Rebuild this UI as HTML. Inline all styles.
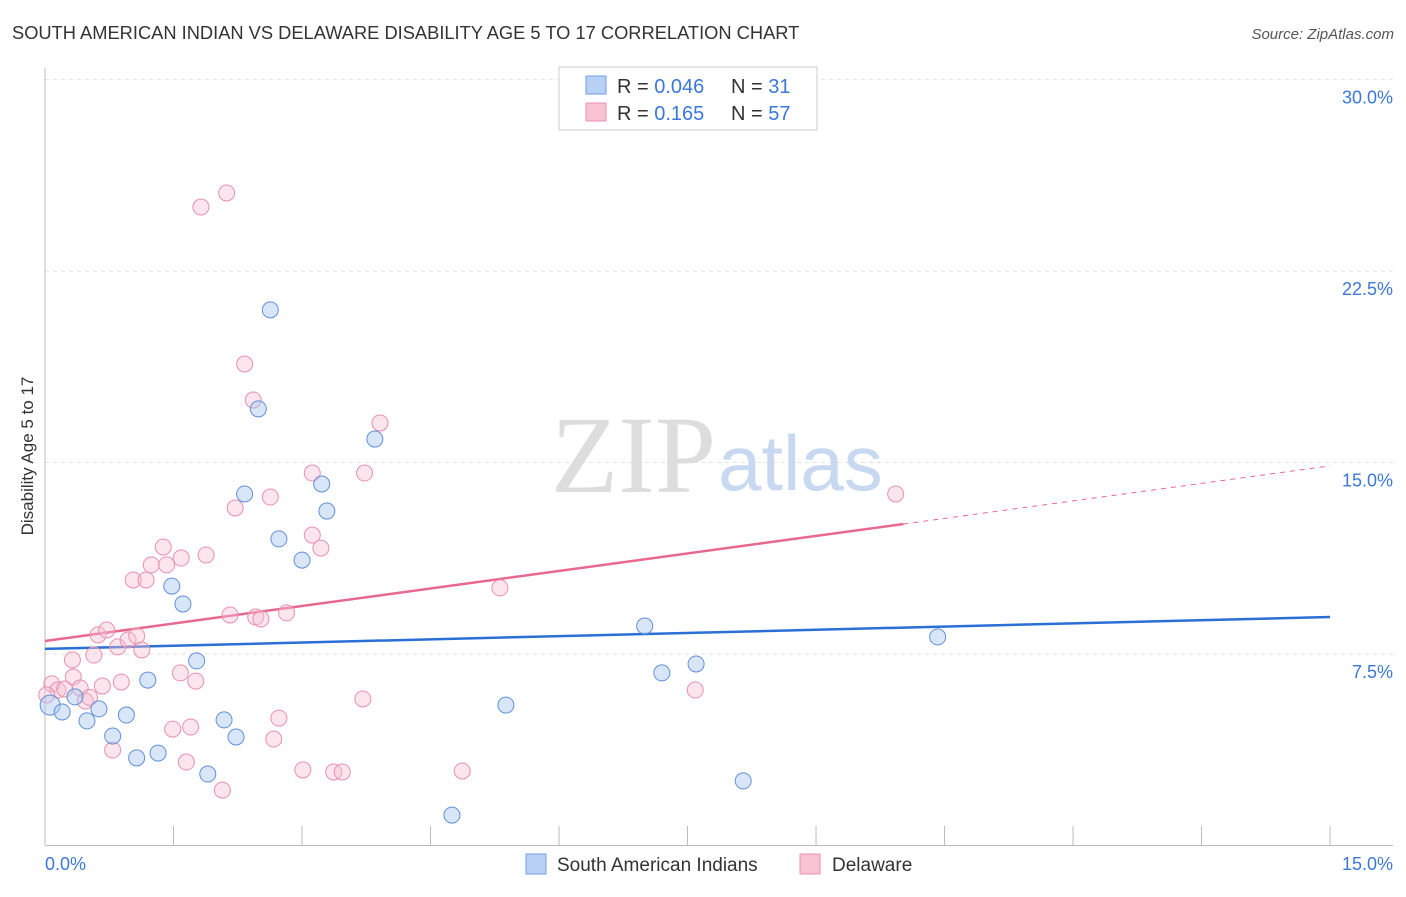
<!DOCTYPE html>
<html><head><meta charset="utf-8"><style>
body{margin:0;background:#fff;font-family:"Liberation Sans",sans-serif;}
</style></head><body>
<svg id="chart" width="1406" height="892" xmlns="http://www.w3.org/2000/svg">
<text x="12" y="39" font-size="18.3" fill="#333">SOUTH AMERICAN INDIAN VS DELAWARE DISABILITY AGE 5 TO 17 CORRELATION CHART</text>
<text x="1394" y="39" font-size="15" fill="#555" font-style="italic" text-anchor="end">Source: ZipAtlas.com</text>
<g id="grid"></g>
<text x="716" y="492" font-size="110" fill="#ddd" font-family="Liberation Serif,serif" text-anchor="end">ZIP</text>
<text x="718" y="490" font-size="78" fill="#c8d8f0" text-anchor="start">atlas</text>
<text transform="translate(33,456) rotate(-90)" font-size="17" fill="#333" text-anchor="middle">Disability Age 5 to 17</text>
<g id="trend"></g>
<g id="points"></g>
<g>
<rect x="559" y="67" width="258" height="63" fill="#fff" stroke="#ccc"/>
<rect x="586" y="76" width="20" height="18" fill="#b8d0f4" stroke="#6f9ee0"/>
<rect x="586" y="103" width="20" height="18" fill="#f8c4d4" stroke="#e891ac"/>
<text x="617" y="93" font-size="20" fill="#333">R = <tspan fill="#3b78d8">0.046</tspan></text>
<text x="731" y="93" font-size="20" fill="#333">N = <tspan fill="#3b78d8"> 31</tspan></text>
<text x="617" y="120" font-size="20" fill="#333">R = <tspan fill="#3b78d8"> 0.165</tspan></text>
<text x="731" y="120" font-size="20" fill="#333">N = <tspan fill="#3b78d8">57</tspan></text>
</g>
<g>
<rect x="526" y="854" width="20" height="20" fill="#b8d0f4" stroke="#6f9ee0"/>
<text x="557" y="871" font-size="19" fill="#333">South American Indians</text>
<rect x="800" y="854" width="20" height="20" fill="#f8c4d4" stroke="#e891ac"/>
<text x="832" y="871" font-size="19" fill="#333">Delaware</text>
</g>
<text x="45" y="870" font-size="18" fill="#3b78d8">0.0%</text>
<text x="1393" y="870" font-size="18" fill="#3b78d8" text-anchor="end">15.0%</text>
</svg>
<script>
const yTicks=[7.5,15,22.5,30];
const yTickLabels=["7.5%","15.0%","22.5%","30.0%"];
const blueX=[.06,.20,.35,.49,.63,.79,.95,1.07,1.20,1.32,1.48,1.61,1.77,1.90,2.09,2.23,2.33,2.49,2.63,2.73,3.00,3.23,3.29,3.85,4.75,5.38,7.00,7.20,7.60,8.15,10.42];
const blueY=[5.50,5.23,5.82,4.88,5.35,4.29,5.11,3.43,6.48,3.62,10.16,9.46,7.23,2.80,4.92,4.25,13.77,17.10,20.98,12.01,11.18,14.16,13.10,15.92,1.19,5.50,8.60,6.76,7.11,2.53,8.17];
const pinkX=[.08,.15,.23,.32,.33,.41,.47,.57,.62,.67,.72,.79,.85,.89,.97,1.03,1.07,1.13,1.18,1.24,1.38,1.42,1.58,1.59,1.65,1.70,1.49,1.76,1.82,1.88,2.07,2.12,2.16,2.22,2.33,2.43,2.46,2.52,2.63,2.67,2.73,2.82,3.01,3.12,3.12,3.22,3.37,3.47,3.71,3.73,3.91,4.87,5.31,7.59,9.93,.02,.52];
const pinkY=[6.33,6.09,6.13,7.27,6.60,6.17,5.66,7.46,8.25,6.25,8.44,3.74,7.78,6.40,8.05,10.40,8.21,7.66,10.40,10.99,11.69,10.99,6.76,11.26,3.27,4.64,4.56,6.44,25.01,11.38,2.17,25.56,9.03,13.22,18.86,17.45,8.95,8.87,13.65,4.17,4.99,9.11,2.96,14.59,12.16,11.65,2.88,2.88,5.74,14.59,16.55,2.92,10.09,6.09,13.77,5.9,5.8];
const blueTrend=[7.70,8.95];
const pinkTrend=[8.01,14.87];
const pinkSolidEnd=10.02;
const X=v=>45+v*85.67, Y=v=>845.5-v*25.53;
const NS="http://www.w3.org/2000/svg";
function mk(t,a,p){const e=document.createElementNS(NS,t);for(const k in a)e.setAttribute(k,a[k]);p.appendChild(e);return e;}
const grid=document.getElementById('grid');
yTicks.forEach((t,i)=>{
 const l=mk('line',{x1:45,x2:1393,y1:Y(t),y2:Y(t),stroke:'#e2e2e2','stroke-dasharray':'4,4'},grid);
 
 
 const tx=mk('text',{x:1393,y:Y(t)+24,'font-size':18,fill:'#3b78d8','text-anchor':'end'},grid);
 tx.textContent=yTickLabels[i];
 
 
});
const ax=mk('line',{x1:45,x2:45,y1:68,y2:845,stroke:'#bbb'},grid);


const bx=mk('line',{x1:45,x2:1393,y1:845.5,y2:845.5,stroke:'#bbb'},grid);


for(let i=0;i<=10;i++){
 const tk=mk('line',{x1:X(i*1.5),x2:X(i*1.5),y1:826,y2:845,stroke:'#bbb'},grid);
 
 
}
const tr=document.getElementById('trend');
const b=mk('line',{x1:X(0),y1:Y(blueTrend[0]),x2:X(15),y2:Y(blueTrend[1]),stroke:'#2a6fd6','stroke-width':2.5},tr);


const pAt=v=>pinkTrend[0]+(pinkTrend[1]-pinkTrend[0])*v/15;
const p1=mk('line',{x1:X(0),y1:Y(pinkTrend[0]),x2:X(pinkSolidEnd),y2:Y(pAt(pinkSolidEnd)),stroke:'#e86890','stroke-width':2.5},tr);


const p2=mk('line',{x1:X(pinkSolidEnd),y1:Y(pAt(pinkSolidEnd)),x2:X(15),y2:Y(pinkTrend[1]),stroke:'#e86890','stroke-width':1,'stroke-dasharray':'5,5'},tr);


const pts=document.getElementById('points');
pinkX.forEach((x,i)=>{
 const c=mk('circle',{cx:X(x),cy:Y(pinkY[i]),r:8,fill:'rgba(248,190,210,0.4)',stroke:'#e891ac','stroke-width':1},pts);
 
 
});
blueX.forEach((x,i)=>{
 const c=mk('circle',{cx:X(x),cy:Y(blueY[i]),r:i==0?10:8,fill:'rgba(170,200,245,0.45)',stroke:'#5f90dc','stroke-width':1},pts);
 
 
});
</script>
</body></html>
